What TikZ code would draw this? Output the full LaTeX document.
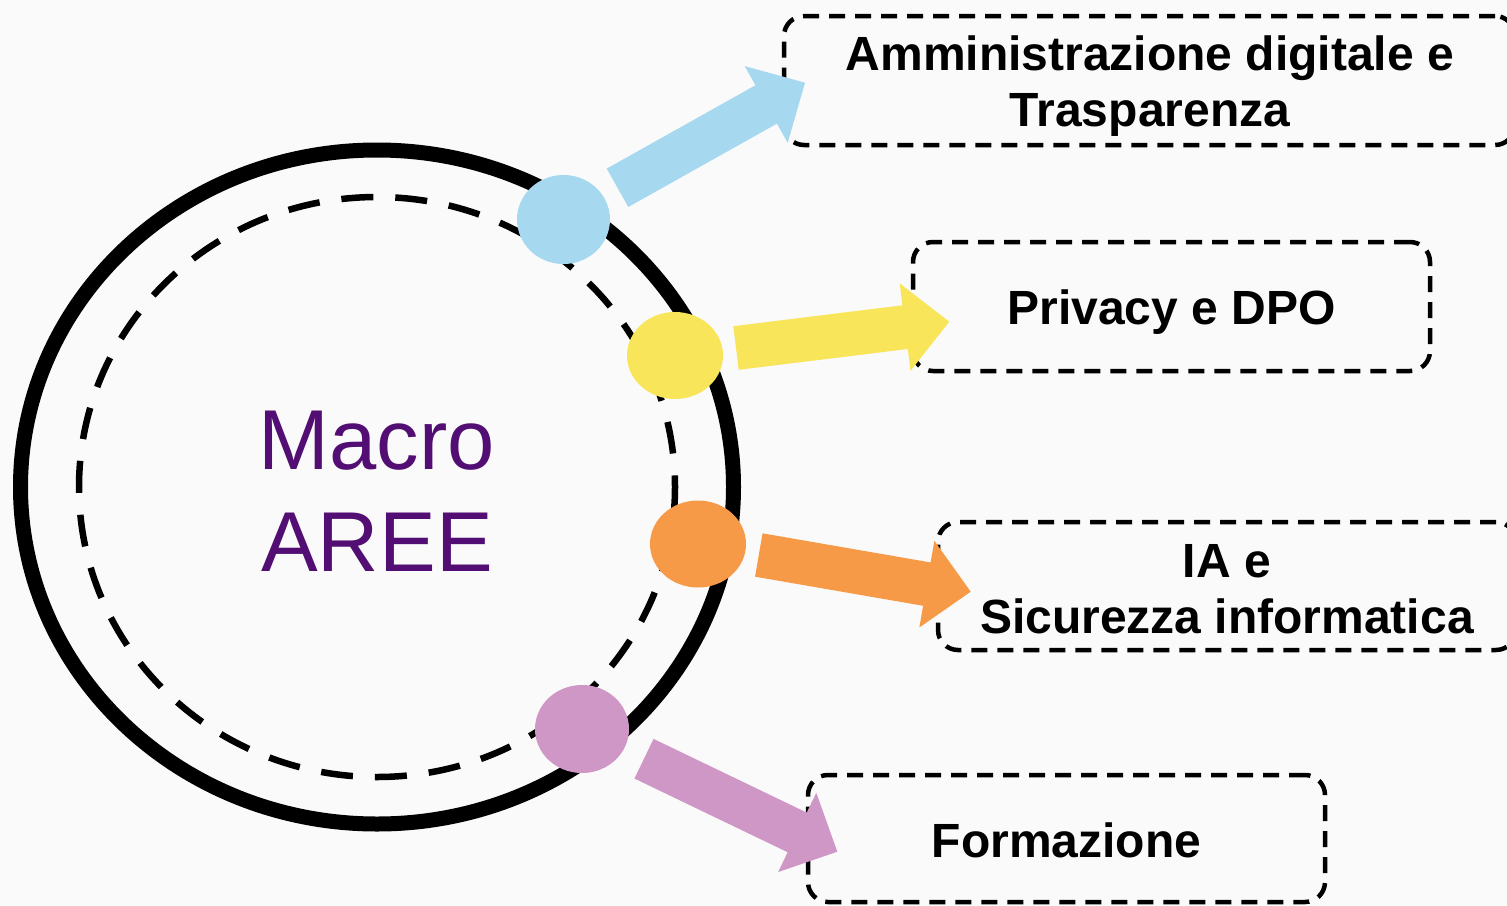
\documentclass[tikz,border=0pt]{standalone}
\usepackage{fontspec}
\setmainfont{Liberation Sans}
\usetikzlibrary{calc,shapes.geometric}
\definecolor{cblue}{HTML}{A6D9EF}
\definecolor{cyellow}{HTML}{F8E55A}
\definecolor{corange}{HTML}{F79A48}
\definecolor{cpink}{HTML}{CF97C5}
\definecolor{cpurple}{HTML}{520E73}
\definecolor{bgcol}{HTML}{FAFAFA}
\newcommand{\fatarrow}[3]{%
  \coordinate (#2-b) at ($(#3)!44.5pt!(#2)$);
  \fill[#1] ($(#2)!22pt!90:(#3)$) -- ($(#2-b)!22pt!-90:(#2)$) -- ($(#2-b)!44pt!-90:(#2)$) -- (#3)
    -- ($(#2-b)!44pt!90:(#2)$) -- ($(#2-b)!22pt!90:(#2)$) -- ($(#2)!22pt!-90:(#3)$) -- cycle;
}
\begin{document}
\begin{tikzpicture}[x=1pt,y=-1pt,
  box/.style={draw=black, line width=4.5pt, dash pattern=on 16pt off 10pt, rounded corners=20pt, inner sep=0pt},
  boxtext/.style={align=center, font=\fontsize{48}{56.5}\selectfont\bfseries, inner sep=0pt},
  dot/.style={ellipse, inner sep=0pt, draw=none}]
\fill[bgcol] (0,0) rectangle (1507,905);
\useasboundingbox (0,0) rectangle (1507,905);
\clip (0,0) rectangle (1507,905);

% boxes
\node[box, minimum width=731pt, minimum height=129pt] (b1) at (1149.5,80.5) {};
\node[box, minimum width=517pt, minimum height=129pt] (b2) at (1171.5,306.5) {};
\node[box, minimum width=578pt, minimum height=128pt] (b3) at (1227,586) {};
\node[box, minimum width=517pt, minimum height=127pt] (b4) at (1066.5,838.5) {};
\node[boxtext] (b1t) at (1150,86) {Amministrazione digitale e\\Trasparenza};
\node[boxtext] (b2t) at (1171.5,312) {Privacy e DPO};
\node[boxtext] (b3t) at (1227,589) {IA e\\Sicurezza informatica};
\node[boxtext] (b4t) at (1066.5,840) {Formazione};

% rings
\coordinate (c) at (377,487);
\draw[line width=15pt] (c) ellipse [x radius=356.5, y radius=337];
\draw[line width=6.5pt, dash pattern=on 32pt off 22pt] (c) ellipse [x radius=298, y radius=290];

\node[font=\fontsize{85}{102}\selectfont, text=cpurple, align=center] (m) at (377,491) {Macro\\AREE};

% dots
\node[dot, fill=cblue, minimum width=93pt, minimum height=89pt] (d1) at (563.5,219.5) {};
\node[dot, fill=cyellow, minimum width=96pt, minimum height=87pt] (d2) at (675,355.5) {};
\node[dot, fill=corange, minimum width=96pt, minimum height=87pt] (d3) at (698,544) {};
\node[dot, fill=cpink, minimum width=94pt, minimum height=88pt] (d4) at (582,729) {};

% arrows
\coordinate (t1) at (617.5,187.8); \coordinate (p1) at (805,82.7);
\coordinate (t2) at (736,348); \coordinate (p2) at (949.3,321.7);
\coordinate (t3) at (758.8,555); \coordinate (p3) at (970.7,591.7);
\coordinate (t4) at (644,758.7); \coordinate (p4) at (837.3,851.7);
\fatarrow{cblue}{t1}{p1}
\fatarrow{cyellow}{t2}{p2}
\fatarrow{corange}{t3}{p3}
\fatarrow{cpink}{t4}{p4}
\end{tikzpicture}
\end{document}
